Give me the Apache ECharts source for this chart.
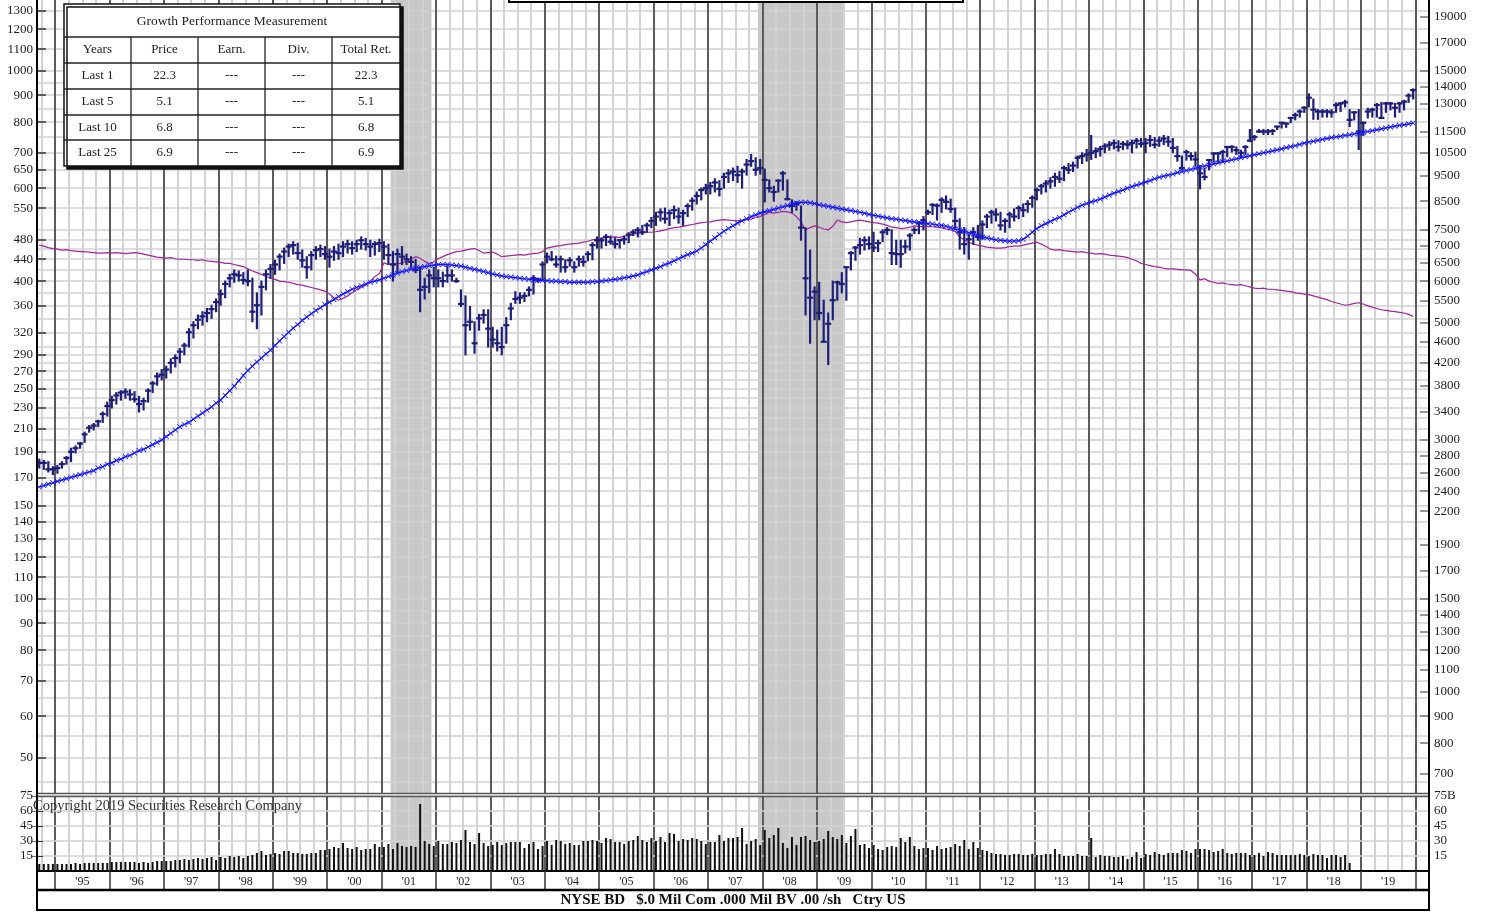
<!DOCTYPE html>
<html>
<head>
<meta charset="utf-8">
<title>BD monthly chart</title>
<script src="https://cdn.jsdelivr.net/npm/echarts@6/dist/echarts.min.js"></script>
<style>
  html, body { margin: 0; padding: 0; background: #fff; }
  #chart { width: 1489px; height: 913px; }
</style>
</head>
<body>
<div id="chart"></div>
<script>
// monthly data, index 0 = Sep 1994 ... index 303 = Dec 2019
const firstYear = 1994, firstMonth = 9;
const axisMonths = 307; // Sep 1994 .. Mar 2020

const high = [
  184,183,182,178,
  179,182,186,193,195,198,207,213,215,218,226,236,
  242,246,248,250,249,247,242,240,250,258,268,272,
  276,285,290,298,305,325,335,345,350,355,360,370,
  385,400,412,420,418,415,420,405,380,400,420,430,
  438,450,462,470,475,472,458,445,455,465,468,465,
  460,465,470,475,478,475,478,485,482,478,475,480,
  475,470,455,460,465,450,445,440,425,405,420,425,
  420,416,427,420,405,385,375,358,335,346,353,353,
  327,323,327,341,363,382,380,380,390,410,405,435,
  452,455,446,446,439,443,435,446,446,455,473,485,
  483,490,487,483,480,487,494,500,505,510,515,528,
  540,548,550,545,555,550,545,560,575,590,600,610,
  615,625,620,640,650,655,660,652,680,695,685,680,
  652,622,605,622,645,622,570,566,555,505,458,390,
  398,368,348,400,400,415,425,455,465,482,485,485,
  495,478,500,505,500,478,478,478,492,505,518,530,
  545,560,560,575,580,572,550,525,505,490,505,510,
  520,535,545,548,540,525,540,548,555,560,568,580,
  600,610,620,628,640,645,660,668,672,690,700,710,
  755,715,720,728,735,740,738,735,738,740,745,745,
  745,755,748,750,755,752,745,720,690,708,700,702,
  662,655,680,700,700,708,718,722,718,708,722,775,
  755,775,775,775,775,785,798,798,815,832,844,855,
  905,885,845,845,845,845,870,872,880,845,838,845,
  800,850,850,868,872,872,872,868,872,880,905,925
];
const low = [
  177,176,174,172,
  173,177,180,182,189,193,198,207,209,212,216,222,
  230,234,238,240,238,236,226,228,236,246,254,260,
  262,268,275,280,290,300,312,325,330,335,340,350,
  360,372,390,398,400,395,392,335,325,345,385,405,
  412,420,432,445,450,440,425,405,420,440,445,440,
  425,438,440,445,452,450,455,460,458,445,448,455,
  440,430,400,415,430,430,425,415,350,370,380,390,
  390,390,398,400,398,358,290,323,292,323,333,300,
  300,295,290,305,338,363,363,366,375,378,398,402,
  433,437,425,416,416,427,416,427,427,437,439,462,
  462,467,470,462,462,470,473,488,485,490,495,505,
  510,520,515,510,525,515,510,530,545,560,570,585,
  585,590,580,600,615,620,615,600,635,660,635,638,
  565,590,567,590,595,570,540,545,478,345,305,338,
  338,307,278,338,368,380,368,420,438,450,458,460,
  455,455,475,490,430,430,425,452,458,492,492,500,
  535,535,522,540,548,540,505,460,450,440,470,478,
  480,505,515,520,500,495,505,520,525,530,540,552,
  570,585,590,600,605,615,620,640,645,655,668,675,
  680,685,690,700,708,712,705,710,712,700,715,718,
  700,720,715,720,725,720,700,675,650,678,678,660,
  598,622,650,672,672,672,688,702,695,688,695,735,
  740,765,758,758,758,775,780,782,798,808,818,835,
  855,810,810,818,818,818,835,838,855,785,808,710,
  755,815,818,818,815,835,844,818,835,844,872,885
];
const close = [
  181,181,176,176,
  177,180,185,190,193,197,205,211,213,217,224,232,
  238,243,246,247,244,239,234,237,248,256,264,266,
  272,280,286,294,302,320,330,338,343,348,354,365,
  378,395,405,412,410,402,400,350,360,390,412,422,
  430,445,455,465,468,452,438,425,448,458,460,450,
  445,455,452,465,470,462,470,478,470,465,470,472,
  465,448,430,450,445,440,435,420,385,390,410,405,
  405,400,410,410,400,362,330,335,305,340,345,325,
  310,305,300,330,355,370,372,375,385,405,402,430,
  445,440,430,440,425,438,425,440,435,450,468,478,
  478,485,475,470,478,480,490,495,500,495,510,520,
  530,540,525,538,545,530,538,555,568,580,595,600,
  605,615,598,630,640,645,635,645,665,675,650,655,
  622,600,590,620,640,572,555,560,505,405,372,382,
  348,307,332,368,398,395,425,452,463,468,478,470,
  463,472,495,500,452,450,450,465,488,500,515,522,
  540,558,556,570,565,548,520,495,470,480,495,485,
  512,530,540,535,510,520,535,530,550,545,560,575,
  595,605,612,618,630,625,655,650,662,685,690,695,
  700,705,712,720,725,730,718,728,725,730,738,728,
  730,740,725,738,745,735,715,690,655,702,690,680,
  640,630,678,698,698,702,718,718,708,700,718,738,
  750,768,768,768,770,785,798,795,815,825,838,852,
  890,845,838,838,838,835,862,868,872,808,835,768,
  798,838,845,862,815,868,868,852,868,875,898,920
];
// blue moving average
const movAvg = [
  163,164,165,166,
  167,168,169,170,171,172,173,174,175,177,178,180,
  181,183,184,186,187,189,191,192,194,196,198,200,
  203,206,209,212,214,216,219,222,225,228,231,235,
  238,243,248,253,259,265,271,276,281,286,291,296,
  302,308,314,320,326,331,337,342,347,352,356,361,
  365,369,374,378,382,386,389,392,395,398,400,402,
  405,408,411,414,417,419,421,423,425,426,428,429,
  430,430,430,429,428,427,425,423,421,419,417,415,
  413,411,409,408,407,406,405,404,403,402,402,401,
  401,400,400,399,399,398,398,398,398,398,399,399,
  400,401,402,403,404,406,407,409,411,414,417,420,
  423,426,430,433,437,441,445,449,452,456,462,469,
  476,483,490,497,503,509,515,520,525,530,534,538,
  541,544,547,550,553,556,559,562,564,564,563,561,
  558,556,554,552,550,548,546,544,542,540,538,535,
  533,531,529,527,525,524,522,521,519,518,517,516,
  514,513,511,510,508,505,502,500,497,494,491,488,
  485,483,481,479,478,477,476,476,477,480,487,495,
  503,509,514,519,524,528,534,540,546,552,557,561,
  565,568,572,577,582,587,591,595,600,604,608,612,
  616,620,625,629,632,635,638,642,645,648,651,654,
  658,661,664,667,670,673,676,679,682,685,688,691,
  694,697,700,703,706,709,712,716,719,722,726,730,
  733,736,739,742,745,748,750,752,755,757,760,762,
  765,768,771,774,777,780,783,786,789,791,794,797
];
// magenta relative strength line
const relStrength = [
  468,466,463,461,
  460,458,459,457,456,455,455,454,453,452,452,453,
  452,453,452,451,452,453,452,450,448,446,444,443,
  442,443,441,440,440,439,439,438,439,437,436,435,
  434,432,432,430,428,426,422,418,415,412,408,405,
  403,400,399,398,396,394,393,391,389,387,385,383,
  378,372,368,371,375,380,385,389,393,400,408,413,
  433,430,432,431,433,436,440,445,442,436,432,435,
  441,445,449,452,455,456,458,460,461,457,452,453,
  454,450,445,446,447,448,449,448,450,451,452,455,
  462,464,466,467,469,470,471,472,474,476,479,480,
  482,484,484,485,484,486,488,491,493,494,495,495,
  496,498,500,503,505,506,508,510,512,514,516,517,
  518,520,522,523,522,521,520,522,523,524,528,530,
  535,540,538,540,542,541,538,530,518,500,505,509,
  506,502,500,508,522,518,516,518,520,522,520,518,
  516,515,513,510,506,505,503,504,506,509,508,507,
  508,507,506,505,502,500,497,485,479,474,470,468,
  466,464,463,462,462,463,465,466,466,468,470,472,
  474,470,465,460,458,459,457,456,455,454,455,453,
  452,450,451,450,448,447,446,445,443,440,437,432,
  430,428,426,425,423,422,422,421,420,420,419,412,
  402,404,400,398,396,397,395,394,393,394,392,390,
  388,387,388,386,386,385,384,383,382,380,379,378,
  377,375,373,371,369,366,364,362,360,361,363,364,
  362,359,357,355,353,352,351,350,349,348,346,343
];
// monthly volume (millions), ends Oct 2018
const volume = [
  7,7,7,7,
  7,7,7,7,8,7,8,8,8,8,8,8,
  9,9,9,9,9,9,8,9,8,9,10,10,
  10,10,11,11,12,11,12,13,12,13,14,11,
  14,13,15,14,15,13,15,16,18,20,16,17,
  18,17,20,20,18,18,17,17,18,18,21,21,
  22,24,23,28,23,22,24,21,22,22,27,24,
  24,27,22,28,25,24,25,24,67,30,27,25,
  30,27,27,29,28,31,41,29,27,38,28,25,
  26,29,26,28,29,29,29,23,27,29,22,25,
  30,26,31,30,27,28,26,26,30,30,31,30,
  28,33,32,29,29,27,30,31,35,31,29,33,
  30,34,29,38,37,30,32,31,33,32,30,27,
  29,29,36,30,33,33,34,43,27,30,32,26,
  41,33,36,43,28,23,34,26,34,35,31,29,
  30,32,40,34,32,36,28,35,42,26,27,23,
  26,22,21,24,25,24,33,29,34,25,22,23,
  23,21,25,22,23,24,27,25,31,22,29,23,
  21,20,18,17,17,16,16,17,17,16,16,17,
  16,16,17,17,22,17,15,15,15,17,15,15,
  33,14,16,15,15,14,14,15,12,14,19,13,
  17,16,19,17,16,18,18,18,21,20,18,22,
  22,22,21,19,20,22,18,17,18,18,18,16,
  16,18,15,19,18,16,16,16,16,16,17,16,
  15,17,16,16,13,16,16,14,16,8
];

const recessions = [[2001, 3, 2001, 12], [2007, 12, 2009, 7]];
const yearLabels = ["'95","'96","'97","'98","'99","'00","'01","'02","'03","'04","'05","'06",
  "'07","'08","'09","'10","'11","'12","'13","'14","'15","'16","'17","'18","'19"];
const leftLabels = [50,60,70,80,90,100,110,120,130,140,150,170,190,210,230,250,270,290,
  320,360,400,440,480,550,600,650,700,800,900,1000,1100,1200,1300];
const rightLabels = [700,800,900,1000,1100,1200,1300,1400,1500,1700,1900,2200,2400,2600,2800,
  3000,3400,3800,4200,4600,5000,5500,6000,6500,7000,7500,8500,9500,10500,11500,13000,14000,
  15000,17000,19000];
const gridLevels = [45,50,55,60,65,70,75,80,85,90,95,100,110,120,130,140,150,160,170,180,190,
  200,210,220,230,240,250,260,270,280,290,300,320,340,360,380,400,420,440,460,480,500,550,600,
  650,700,750,800,850,900,950,1000,1100,1200,1300];
const volLabels = [15,30,45,60,75];
const rightScale = 15;
const priceMin = 42.9, priceMax = 1363;

const tableTitle = 'Growth Performance Measurement';
const tableHead = ['Years', 'Price', 'Earn.', 'Div.', 'Total Ret.'];
const tableRows = [
  ['Last 1', '22.3', '---', '---', '22.3'],
  ['Last 5', '5.1', '---', '---', '5.1'],
  ['Last 10', '6.8', '---', '---', '6.8'],
  ['Last 25', '6.9', '---', '---', '6.9']
];

function monthIndex(y, m) {
  return (y - firstYear) * 12 + (m - firstMonth);
}

let yearStarts = [];
for (let y = 1995; y <= 2020; y++) yearStarts.push(monthIndex(y, 1));
let yearMids = yearStarts.slice(0, 25).map(v => v + 6);
let quarterStarts = [];
for (let i = 1; i <= axisMonths; i++) {
  let m = ((firstMonth - 1 + i) % 12) + 1;
  if ((m - 1) % 3 === 0) quarterStarts.push(i);
}

let priceData = high.map((h, i) => [i + 0.5, h, low[i], close[i]]);
let maData = movAvg.map((v, i) => [i + 0.5, v]);
let rsData = relStrength.map((v, i) => [i + 0.5, v]);
let volData = volume.map((v, i) => [i + 0.5, v]);
let recData = recessions.map(r => [monthIndex(r[0], r[1]), monthIndex(r[2], r[3])]);

const serif = 'Liberation Serif';
const labelStyle = { fontFamily: serif, fontSize: 13, color: '#222' };
const lg = v => Math.log10(v);

function vLines(gridIndex, values, color, width, z, position) {
  return {
    type: 'value', gridIndex: gridIndex, min: 0, max: axisMonths, position: position, z: z,
    axisLine: { show: false }, axisLabel: { show: false },
    axisTick: { show: false, customValues: values },
    splitLine: { show: true, lineStyle: { color: color, width: width } }
  };
}

let chart = echarts.init(document.getElementById('chart'));

function shadeItem(params, api) {
  let a = api.coord([api.value(0), 100]);
  let b = api.coord([api.value(1), 100]);
  let cs = params.coordSys;
  return { type: 'rect', shape: { x: a[0], y: cs.y, width: b[0] - a[0], height: cs.height },
    style: { fill: '#c8c8c8' } };
}
function shadeItemVol(params, api) {
  let a = api.coord([api.value(0), 10]);
  let b = api.coord([api.value(1), 10]);
  let cs = params.coordSys;
  return { type: 'rect', shape: { x: a[0], y: cs.y, width: b[0] - a[0], height: cs.height },
    style: { fill: '#c8c8c8' } };
}

// table graphic
const TZ = 100;
const colEdges = [64, 131, 198, 265, 332, 400];
const rowEdges = [4, 37, 63, 89, 115, 140, 166];
let tableEls = [{
  type: 'rect', z: TZ, shape: { x: colEdges[0], y: rowEdges[0], width: 336, height: 162 },
  style: { fill: '#fff', stroke: '#111', lineWidth: 1.5, shadowColor: '#111', shadowOffsetX: 3, shadowOffsetY: 3, shadowBlur: 0 }
}];
for (let r = 1; r < rowEdges.length - 1; r++) {
  tableEls.push({ type: 'line', z: TZ + 1, shape: { x1: 64, y1: rowEdges[r], x2: 400, y2: rowEdges[r] },
    style: { stroke: '#222', lineWidth: 1.3 } });
}
for (let c = 1; c < colEdges.length - 1; c++) {
  tableEls.push({ type: 'line', z: TZ + 1, shape: { x1: colEdges[c], y1: rowEdges[1], x2: colEdges[c], y2: rowEdges[6] },
    style: { stroke: '#222', lineWidth: 1.3 } });
}
function cellText(txt, x, y, size) {
  return { type: 'text', z: TZ + 2, x: x, y: y,
    style: { text: txt, font: size + 'px "' + serif + '"', fill: '#222', align: 'center', verticalAlign: 'middle',
      textAlign: 'center', textVerticalAlign: 'middle' } };
}
tableEls.push(cellText(tableTitle, 232, 21, 13.5));
tableHead.forEach((t, c) => tableEls.push(cellText(t, (colEdges[c] + colEdges[c + 1]) / 2, 50, 13)));
tableRows.forEach((row, r) => row.forEach((t, c) =>
  tableEls.push(cellText(t, (colEdges[c] + colEdges[c + 1]) / 2, (rowEdges[r + 2] + rowEdges[r + 3]) / 2, 13))));

let option = {
  animation: false,
  backgroundColor: '#fff',
  textStyle: { fontFamily: serif },
  grid: [
    { left: 37, top: 0, width: 1392, height: 793 },
    { left: 37, top: 796, width: 1392, height: 75 }
  ],
  xAxis: [
    vLines(0, quarterStarts, '#d2d2d2', 2, 0, 'top'),
    vLines(0, yearStarts, '#333', 1.5, 1, 'bottom'),
    vLines(1, quarterStarts, '#d2d2d2', 2, 0, 'top'),
    {
      type: 'value', gridIndex: 1, min: 0, max: axisMonths, position: 'bottom', z: 1,
      axisLine: { show: true, lineStyle: { color: '#000', width: 2 } },
      axisTick: { show: true, customValues: yearStarts, length: 19, inside: false, lineStyle: { color: '#333', width: 1.5 } },
      axisLabel: { show: true, customValues: yearMids, margin: 5, ...labelStyle, fontSize: 12,
        formatter: v => yearLabels[Math.round((v - yearMids[0]) / 12)] },
      splitLine: { show: true, lineStyle: { color: '#333', width: 1.5 } }
    }
  ],
  yAxis: [
    { type: 'log', gridIndex: 0, min: priceMin, max: priceMax, show: false },
    {
      type: 'value', gridIndex: 0, position: 'left', min: lg(priceMin), max: lg(priceMax), z: 3,
      axisLine: { show: true, lineStyle: { color: '#000', width: 2 } },
      axisTick: { show: true, inside: true, length: 9, customValues: leftLabels.map(lg), lineStyle: { color: '#333', width: 1.5 } },
      axisLabel: { customValues: leftLabels.map(lg), margin: 4, ...labelStyle, formatter: v => String(Math.round(Math.pow(10, v))) },
      splitLine: { show: false }
    },
    {
      type: 'value', gridIndex: 0, position: 'right', min: lg(priceMin * rightScale), max: lg(priceMax * rightScale), z: 3,
      axisLine: { show: true, lineStyle: { color: '#000', width: 2 } },
      axisTick: { show: true, inside: true, length: 9, customValues: rightLabels.map(lg), lineStyle: { color: '#777', width: 1.5 } },
      axisLabel: { customValues: rightLabels.map(lg), margin: 5, ...labelStyle, formatter: v => String(Math.round(Math.pow(10, v))) },
      splitLine: { show: false }
    },
    {
      type: 'value', gridIndex: 0, position: 'left', min: lg(priceMin), max: lg(priceMax), z: 0,
      axisLine: { show: false }, axisLabel: { show: false },
      axisTick: { show: false, customValues: gridLevels.map(lg) },
      splitLine: { show: true, lineStyle: { color: '#d2d2d2', width: 1.5 } }
    },
    {
      type: 'value', gridIndex: 1, position: 'left', min: 0, max: 75, z: 3,
      axisLine: { show: true, lineStyle: { color: '#000', width: 2 } },
      axisTick: { show: true, inside: true, length: 6, customValues: volLabels, lineStyle: { color: '#333' } },
      axisLabel: { customValues: volLabels, margin: 4, ...labelStyle },
      splitLine: { show: true, lineStyle: { color: '#d2d2d2', width: 1.5 } }
    },
    {
      type: 'value', gridIndex: 1, position: 'right', min: 0, max: 75, z: 3,
      axisLine: { show: true, lineStyle: { color: '#000', width: 2 } },
      axisTick: { show: true, inside: true, length: 6, customValues: volLabels, lineStyle: { color: '#777' } },
      axisLabel: { customValues: volLabels, margin: 5, ...labelStyle, formatter: v => v === 75 ? '75B' : String(v) },
      splitLine: { show: false }
    }
  ],
  series: [
    { type: 'custom', name: 'recession', xAxisIndex: 0, yAxisIndex: 0, z: -1, silent: true,
      data: recData, encode: { x: [0, 1] }, renderItem: shadeItem },
    { type: 'custom', name: 'recession vol', xAxisIndex: 2, yAxisIndex: 4, z: -1, silent: true,
      data: recData, encode: { x: [0, 1] }, renderItem: shadeItemVol },
    { type: 'line', name: 'Relative Strength', xAxisIndex: 0, yAxisIndex: 0, z: 3,
      data: rsData, showSymbol: false, symbol: 'none',
      lineStyle: { color: '#a1259c', width: 1.2 } },
    { type: 'custom', name: 'Price', xAxisIndex: 0, yAxisIndex: 0, z: 4,
      data: priceData, encode: { x: 0, y: [1, 2, 3] },
      renderItem: (params, api) => {
        let x = api.value(0);
        let top = api.coord([x, api.value(1)]);
        let bot = api.coord([x, api.value(2)]);
        let cl = api.coord([x, api.value(3)]);
        let st = { stroke: '#1e1e78', lineWidth: 2.2 };
        return { type: 'group', children: [
          { type: 'line', shape: { x1: top[0], y1: top[1] - 0.5, x2: bot[0], y2: bot[1] + 0.5 }, style: st },
          { type: 'line', shape: { x1: cl[0] - 3, y1: cl[1], x2: cl[0] + 3, y2: cl[1] }, style: st }
        ] };
      } },
    { type: 'line', name: 'Moving Average', xAxisIndex: 0, yAxisIndex: 0, z: 5,
      data: maData, showSymbol: true,
      symbol: 'path://M0,1L1,0L5,4L9,0L10,1L6,5L10,9L9,10L5,6L1,10L0,9L4,5Z', symbolSize: 5.5,
      itemStyle: { color: '#1414ff' },
      lineStyle: { color: '#1414ff', width: 1.3 } },
    { type: 'custom', name: 'Volume', xAxisIndex: 2, yAxisIndex: 4, z: 4,
      data: volData, encode: { x: 0, y: 1 },
      renderItem: (params, api) => {
        let x = api.value(0);
        let a = api.coord([x, 0]);
        let b = api.coord([x, api.value(1)]);
        return { type: 'line', shape: { x1: a[0], y1: a[1], x2: b[0], y2: b[1] },
          style: { stroke: '#111', lineWidth: 2 } };
      } }
  ],
  graphic: [
    { type: 'rect', z: 20, shape: { x: 509, y: -20, width: 454, height: 22 },
      style: { fill: '#fff', stroke: '#000', lineWidth: 2 } },
    { type: 'line', z: 20, shape: { x1: 37, y1: 793.5, x2: 1429, y2: 793.5 }, style: { stroke: '#555', lineWidth: 1.5 } },
    { type: 'line', z: 20, shape: { x1: 37, y1: 796.5, x2: 1429, y2: 796.5 }, style: { stroke: '#555', lineWidth: 1.5 } },
    { type: 'line', z: 20, shape: { x1: 37, y1: 890, x2: 1429, y2: 890 }, style: { stroke: '#000', lineWidth: 2.5 } },
    { type: 'line', z: 20, shape: { x1: 37, y1: 910, x2: 1429, y2: 910 }, style: { stroke: '#000', lineWidth: 2 } },
    { type: 'line', z: 20, shape: { x1: 37, y1: 0, x2: 37, y2: 911 }, style: { stroke: '#000', lineWidth: 2 } },
    { type: 'line', z: 20, shape: { x1: 1429, y1: 0, x2: 1429, y2: 911 }, style: { stroke: '#000', lineWidth: 2 } },
    { type: 'text', z: 20, x: 733, y: 900,
      style: { text: 'NYSE BD   $.0 Mil Com .000 Mil BV .00 /sh   Ctry US', font: 'bold 15px "' + serif + '"',
        fill: '#111', align: 'center', verticalAlign: 'middle', textAlign: 'center', textVerticalAlign: 'middle' } },
    { type: 'text', z: 20, x: 33, y: 806,
      style: { text: 'Copyright 2019 Securities Research Company', font: '14.5px "' + serif + '"',
        fill: '#333', align: 'left', verticalAlign: 'middle', textAlign: 'left', textVerticalAlign: 'middle' } },
    ...tableEls
  ]
};

chart.setOption(option);
</script>
</body>
</html>
